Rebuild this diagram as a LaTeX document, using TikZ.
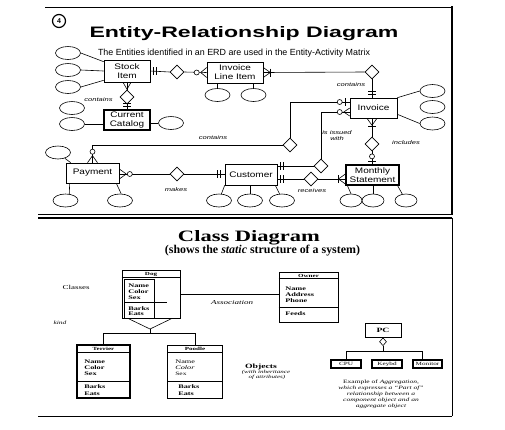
\documentclass[tikz,border=0pt]{standalone}
\usepackage{fontspec}
\usepackage{graphicx}
\setmainfont{Liberation Serif}
\setsansfont{Liberation Sans}
\newfontfamily\erdfont[FakeStretch=1.25]{Liberation Sans}
\newfontfamily\lblfont[FakeStretch=1.4]{Liberation Sans}
\newfontfamily\cdfont[FakeStretch=1.5]{Liberation Serif}
\usetikzlibrary{shapes.geometric,calc}
\begin{document}
\begin{tikzpicture}[x=1pt,y=-1pt,line width=0.6pt,
  ent/.style={draw,rectangle,inner sep=0pt,align=center,font=\erdfont\fontsize{8}{9}\selectfont},
  attr/.style={draw,ellipse,minimum width=25pt,minimum height=13pt,inner sep=0pt},
  rel/.style={draw,diamond,minimum width=14pt,minimum height=14pt,inner sep=0pt,fill=white},
  lbl/.style={font=\lblfont\itshape\fontsize{5.4}{6}\selectfont,inner sep=0pt,align=center},
  cbox/.style={draw,rectangle,inner sep=0pt,line width=0.8pt},
  chead/.style={font=\cdfont\bfseries\fontsize{4.7}{5}\selectfont,inner sep=0pt},
  cattr/.style={font=\cdfont\bfseries\fontsize{5.5}{6}\selectfont,inner sep=0pt,anchor=west},
  cnote/.style={font=\cdfont\fontsize{5}{6}\selectfont,inner sep=0pt,align=center},
  ring/.style={draw,fill=white,line width=0.6pt}
]
\useasboundingbox[fill=white] (0,0) rectangle (505,429);

% ---------- panel frames ----------
\draw[line width=0.8pt] (45,7) -- (452,7);
\draw[line width=2.5pt] (452,6) -- (452,215);
\draw[line width=0.8pt] (38,214.5) -- (452,214.5);
\draw[line width=1.4pt] (38,217.8) -- (452,217.8);
\draw[line width=0.9pt] (452,217.8) -- (452,416);
\draw[line width=0.9pt] (38,416) -- (452,416);

% ---------- ERD titles ----------
\node[draw,circle,line width=1.2pt,minimum size=13pt,inner sep=0pt,font=\sffamily\bfseries\fontsize{7}{7}\selectfont] (four) at (59,21) {4};
\node[anchor=base,inner sep=0pt] (erdtitle) at (244,37.5) {\resizebox{309pt}{11pt}{\sffamily\bfseries Entity-Relationship Diagram}};
\node[anchor=base,inner sep=0pt] (erdsub) at (234,55.5) {\resizebox{272pt}{!}{\sffamily The Entities identified in an ERD are used in the Entity-Activity Matrix}};

% ---------- entities ----------
\node[ent,minimum width=46pt,minimum height=22pt] (stock) at (127,71) {Stock\\Item};
\node[ent,minimum width=56pt,minimum height=21pt] (ili) at (235,72.5) {Invoice\\Line Item};
\node[ent,line width=1.2pt,minimum width=46pt,minimum height=20pt] (cat) at (127,120) {Current\\Catalog};
\node[ent,minimum width=53pt,minimum height=20pt] (pay) at (92.5,173) {Payment};
\node[ent,minimum width=52pt,minimum height=21pt] (cust) at (251,174.5) {Customer};
\node[ent,minimum width=47pt,minimum height=20pt] (inv) at (373.5,108) {Invoice};
\node[ent,line width=1.2pt,minimum width=53pt,minimum height=20pt] (mon) at (372.5,175) {Monthly\\Statement};

% ---------- attributes ----------
\node[attr] (sa1) at (68,53) {};
\node[attr] (sa2) at (68,70) {};
\node[attr] (sa3) at (68,87) {};
\node[attr] (ca1) at (72,108) {};
\node[attr] (ca2) at (72,124) {};
\node[attr] (ca3) at (171,123) {};
\node[attr] (ia1) at (217.5,95) {};
\node[attr] (ia2) at (253.5,95) {};
\node[attr] (pa1) at (58,152.5) {};
\node[attr] (pa2) at (65.5,200.5) {};
\node[attr] (pa3) at (120,200.5) {};
\node[attr] (cu1) at (219,200.5) {};
\node[attr] (cu2) at (250,200.5) {};
\node[attr] (cu3) at (282,200.5) {};
\node[attr] (va1) at (432.5,91) {};
\node[attr] (va2) at (432.5,107) {};
\node[attr] (va3) at (432.5,123.5) {};
\node[attr,minimum width=22pt] (ma1) at (351,200.5) {};
\node[attr,minimum width=22pt] (ma2) at (373,200.5) {};
\node[attr,minimum width=22pt] (ma3) at (406,200.5) {};

\draw (sa1.east) -- ($(stock.north west)+(0,2)$);
\draw (sa2.east) -- (stock.west);
\draw (sa3.east) -- ($(stock.south west)+(0,-2)$);
\draw (ca2.east) -- (ca2.east -| cat.west);
\draw (ca3.west -| cat.east) -- (ca3.west);
\draw (ia1.north |- ili.south) -- (ia1.north);
\draw (ia2.north |- ili.south) -- (ia2.north);
\draw (pa1.-40) -- ($(pay.north west)+(5,0)$);
\draw ($(pay.south west)+(4,0)$) -- (pa2.60);
\draw ($(pay.south east)+(-3,0)$) -- (pa3.80);
\draw (cust.south west) -- (cu1.70);
\draw (cu2.north |- cust.south) -- (cu2.north);
\draw ($(cust.south east)+(-2,0)$) -- (cu3.110);
\draw (inv.north east) -- (va1.west);
\draw ($(inv.south east)+(0,-4)$) -- (va3.west);
\draw ($(mon.south west)+(2,0)$) -- (ma1.north);
\draw (ma2.north |- mon.south) -- (ma2.north);
\draw ($(mon.south east)+(-2,0)$) -- (ma3.120);

% ---------- relationships ----------
\node[rel] (r1) at (177,72) {};
\node[rel] (r2) at (127,97) {};
\node[rel] (r3) at (372,72) {};
\node[rel] (r4) at (290,145) {};
\node[rel] (r5) at (321,166) {};
\node[rel] (r6) at (311,179) {};
\node[rel] (r7) at (372,144) {};
\node[rel] (r8) at (177,174) {};

% Stock Item -- Invoice Line Item
\draw (stock.east) -- (r1.west);
\draw (r1.east) -- (ili.west);
\draw ($(stock.east)+(3,-4)$) -- ++(0,8);
\draw ($(stock.east)+(6,-4)$) -- ++(0,8);
\draw ($(ili.west)+(-6,0)$) -- ($(ili.west)+(0,-5)$);
\draw ($(ili.west)+(-6,0)$) -- ($(ili.west)+(0,5)$);
\draw[ring] ($(ili.west)+(-10,0)$) circle (2.5pt);

% Stock Item -- Current Catalog
\draw (stock.south) -- (r2.north);
\draw (r2.south) -- (cat.north);
\draw ($(stock.south)+(0,7)$) -- ($(stock.south)+(-4,0)$);
\draw ($(stock.south)+(0,7)$) -- ($(stock.south)+(4,0)$);
\draw ($(cat.north)+(-4,-6)$) -- ++(8,0);
\draw ($(cat.north)+(-4,-3)$) -- ++(8,0);

% Invoice Line Item -- Invoice
\coordinate (e3) at (r3.south |- inv.north);
\draw (ili.east) -- (r3.west);
\draw (r3.south) -- (e3);
\draw ($(ili.east)+(7,0)$) -- ($(ili.east)+(0,-5)$);
\draw ($(ili.east)+(7,0)$) -- ($(ili.east)+(0,5)$);
\draw ($(ili.east)+(7,-4)$) -- ++(0,8);
\draw ($(e3)+(-4,-6)$) -- ++(8,0);
\draw ($(e3)+(-4,-3)$) -- ++(8,0);

% Payment -- Invoice (contains)
\coordinate (c4) at (290,102);
\coordinate (e4) at (c4 -| inv.west);
\draw (pay.north) -- (pay.north |- r4.west) -- (r4.west);
\draw (r4.north) -- (c4) -- (e4);
\draw ($(e4)+(-4,-4)$) -- ++(0,8);
\draw[ring] ($(e4)+(-10,0)$) circle (2.5pt);
\draw ($(pay.north)+(0,-7)$) -- ($(pay.north)+(-5,0)$);
\draw ($(pay.north)+(0,-7)$) -- ($(pay.north)+(5,0)$);
\draw[ring] ($(pay.north)+(0,-11)$) circle (2.5pt);

% Customer -- Invoice (is issued with)
\coordinate (c5) at (321,112);
\coordinate (e5) at (c5 -| inv.west);
\coordinate (f5) at (r5.west -| cust.east);
\draw (r5.north) -- (c5) -- (e5);
\draw (f5) -- (r5.west);
\draw ($(e5)+(-6,0)$) -- ($(e5)+(0,-4)$);
\draw ($(e5)+(-6,0)$) -- ($(e5)+(0,4)$);
\draw[ring] ($(e5)+(-10,0)$) circle (2.5pt);
\draw ($(f5)+(3,-4)$) -- ++(0,8);
\draw ($(f5)+(6,-4)$) -- ++(0,8);

% Customer -- Monthly Statement (receives)
\coordinate (f6) at (r6.west -| cust.east);
\coordinate (e6) at (r6.east -| mon.west);
\draw (f6) -- (r6.west);
\draw (r6.east) -- (e6);
\draw ($(f6)+(3,-4)$) -- ++(0,8);
\draw ($(f6)+(6,-4)$) -- ++(0,8);
\draw ($(e6)+(-7,-4)$) -- ++(0,8);
\draw ($(e6)+(-7,0)$) -- ($(e6)+(0,-5)$);
\draw ($(e6)+(-7,0)$) -- ($(e6)+(0,5)$);

% Invoice -- Monthly Statement (includes)
\coordinate (f7) at (r7.north |- inv.south);
\coordinate (e7) at (r7.south |- mon.north);
\draw (f7) -- (r7.north);
\draw (r7.south) -- (e7);
\draw ($(f7)+(0,7)$) -- ($(f7)+(-5,0)$);
\draw ($(f7)+(0,7)$) -- ($(f7)+(5,0)$);
\draw ($(f7)+(-4,8)$) -- ++(8,0);
\draw ($(e7)+(-4,-3)$) -- ++(8,0);
\draw[ring] ($(e7)+(0,-8)$) circle (2.5pt);

% Payment -- Customer (makes)
\coordinate (f8) at (r8.west -| pay.east);
\coordinate (e8) at (r8.east -| cust.west);
\draw (f8) -- (r8.west);
\draw (r8.east) -- (e8);
\draw ($(f8)+(7,0)$) -- ($(f8)+(0,-5)$);
\draw ($(f8)+(7,0)$) -- ($(f8)+(0,5)$);
\draw[ring] ($(f8)+(10.5,0)$) circle (2.5pt);
\draw ($(e8)+(-7,-4)$) -- ++(0,8);
\draw ($(e8)+(-4,-4)$) -- ++(0,8);

% relationship labels
\node[lbl] (l2) at (98.5,99.5) {contains};
\node[lbl] (l3) at (351,85) {contains};
\node[lbl] (l4) at (213,138) {contains};
\node[lbl] (l5) at (337,136) {is issued\\with};
\node[lbl] (l6) at (312,191) {receives};
\node[lbl] (l7) at (406,143) {includes};
\node[lbl] (l8) at (176,190) {makes};

% ---------- Class diagram ----------
\node[anchor=base,inner sep=0pt] (cdtitle) at (249,241.5) {\resizebox{142pt}{11pt}{\rmfamily\bfseries Class Diagram}};
\node[anchor=base,inner sep=0pt] (cdsub) at (262.5,253) {\resizebox{195pt}{!}{\rmfamily\bfseries (shows the \textit{static} structure of a system)}};

\node[font=\cdfont\fontsize{6}{7}\selectfont,inner sep=0pt] (classes) at (76,287) {Classes};
\node[font=\cdfont\itshape\fontsize{6}{7}\selectfont,inner sep=0pt] (assoc) at (232,303) {Association};
\node[font=\cdfont\itshape\fontsize{5}{6}\selectfont,inner sep=0pt] (kind) at (60,323) {kind};

% Dog
\node[cbox,minimum width=58pt,minimum height=48pt] (dog) at (151,294) {};
\node[chead] (dogh) at (151,274) {Dog};
\draw ($(dog.north west)+(0,8)$) -- ($(dog.north east)+(0,8)$);
\draw ($(dog.north west)+(3,10)$) rectangle ($(dog.south west)+(33,0)$);
\draw ($(dog.north west)+(3,33)$) -- ++(42,0);
\node[cattr] at (128,286) {Name};
\node[cattr] at (128,292) {Color};
\node[cattr] at (128,297.5) {Sex};
\node[cattr] at (128,308.5) {Barks};
\node[cattr] at (128,314) {Eats};

% Owner
\node[cbox,minimum width=59pt,minimum height=50pt] (owner) at (308.5,297) {};
\node[chead] (ownh) at (308.5,275.5) {Owner};
\draw ($(owner.north west)+(0,7)$) -- ($(owner.north east)+(0,7)$);
\draw ($(owner.north west)+(0,36)$) -- ($(owner.north east)+(0,36)$);
\node[cattr] at (285,289) {Name};
\node[cattr] at (285,295) {Address};
\node[cattr] at (285,301) {Phone};
\node[cattr] at (285,314) {Feeds};

\draw (dog.east) -- (dog.east -| owner.west);

% Terrier / Poodle
\node[cbox,line width=1.1pt,minimum width=53pt,minimum height=53pt] (terrier) at (103.5,371.5) {};
\node[chead] (terh) at (103.5,349) {Terrier};
\draw ($(terrier.north west)+(0,8)$) -- ($(terrier.north east)+(0,8)$);
\draw ($(terrier.north west)+(0,37)$) -- ($(terrier.north east)+(0,37)$);
\node[cattr] at (84,362) {Name};
\node[cattr] at (84,368) {Color};
\node[cattr] at (84,374) {Sex};
\node[cattr] at (84,387) {Barks};
\node[cattr] at (84,393.5) {Eats};

\node[cbox,minimum width=55pt,minimum height=53pt] (poodle) at (195,371.5) {};
\node[chead] (pooh) at (195,349) {Poodle};
\draw ($(poodle.north west)+(0,8)$) -- ($(poodle.north east)+(0,8)$);
\draw ($(poodle.north west)+(0,37)$) -- ($(poodle.north east)+(0,37)$);
\node[cattr,font=\cdfont\fontsize{5.5}{6}\selectfont] at (175,362) {Name};
\node[cattr,font=\cdfont\itshape\fontsize{5.5}{6}\selectfont] at (175,368) {Color};
\node[cattr,font=\cdfont\fontsize{5}{6}\selectfont] at (175,374) {Sex};
\node[cattr] at (178,387) {Barks};
\node[cattr] at (178,393.5) {Eats};

% generalization
\coordinate (gtip) at (150,329);
\coordinate (gbar) at (150,333);
\draw ($(dog.south)+(-23,0)$) -- (gtip) -- ($(dog.south)+(21,0)$);
\draw (gtip) -- (gbar);
\draw (terrier.north |- gbar) -- (poodle.north |- gbar);
\draw (terrier.north |- gbar) -- (terrier.north);
\draw (poodle.north |- gbar) -- (poodle.north);

\node[font=\cdfont\bfseries\fontsize{6.5}{7}\selectfont,inner sep=0pt] (objs) at (261,367) {Objects};
\node[font=\cdfont\itshape\fontsize{4.7}{5}\selectfont,inner sep=0pt] (objs2) at (266,372.5) {(with inheritance};
\node[font=\cdfont\itshape\fontsize{4.7}{5}\selectfont,inner sep=0pt] (objs3) at (267,377.5) {of attributes)};

% Aggregation
\node[cbox,minimum width=36pt,minimum height=14pt,font=\cdfont\bfseries\fontsize{6.5}{7}\selectfont] (pc) at (383,330) {PC};
\node[draw,diamond,minimum width=7pt,minimum height=8pt,inner sep=0pt,fill=white,anchor=north] (agg) at (pc.south) {};
\node[cbox,line width=1.1pt,minimum width=30pt,minimum height=8pt,font=\cdfont\fontsize{4.8}{5}\selectfont] (cpu) at (346,364) {CPU};
\node[cbox,line width=1.1pt,minimum width=30pt,minimum height=8pt,font=\cdfont\fontsize{4.8}{5}\selectfont] (kbd) at (387,364) {Keybd};
\node[cbox,line width=1.1pt,minimum width=29pt,minimum height=8pt,font=\cdfont\fontsize{4.8}{5}\selectfont] (mntr) at (427.5,364) {Monitor};
\coordinate (abar) at (agg.south |- 0,351);
\draw (agg.south) -- (abar);
\draw (cpu.north |- abar) -- ($(mntr.north |- abar)+(-5,0)$);
\draw (cpu.north |- abar) -- (cpu.north);
\draw ($(kbd.north west)+(2,0)$ |- abar) -- ($(kbd.north west)+(2,0)$);
\draw ($(mntr.north |- abar)+(-5,0)$) -- ($(mntr.north)+(-5,0)$);

\node[cnote] (aggnote) at (381,394.5) {Example of \textit{Aggregation,}\\\textit{which expresses a “Part of”}\\\textit{relationship between a}\\\textit{component object and an}\\\textit{aggregate object}};
\end{tikzpicture}
\end{document}
